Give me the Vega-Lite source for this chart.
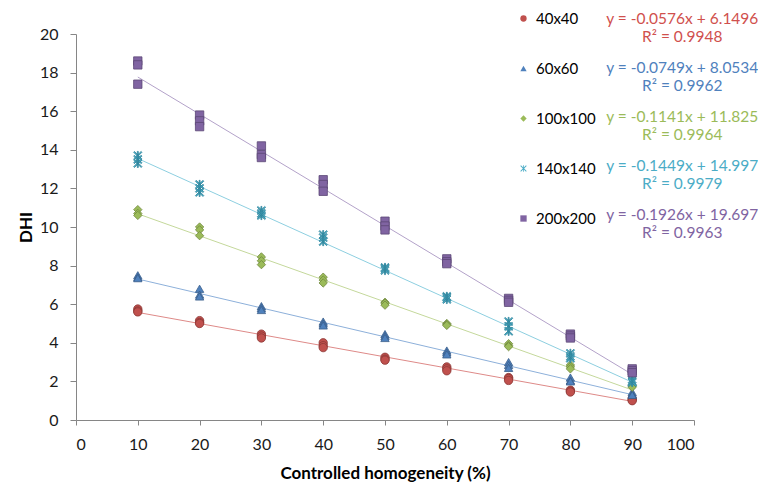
{
  "$schema": "https://vega.github.io/schema/vega-lite/v6.json",
  "width": 618,
  "height": 386,
  "autosize": {"type": "none"},
  "padding": {"left": 76, "top": 34, "right": 64, "bottom": 68},
  "background": "#ffffff",
  "config": {
    "view": {"stroke": null},
    "font": "Lato",
    "axis": {
      "domainColor": "#868686",
      "tickColor": "#868686",
      "grid": false,
      "labelFont": "Lato",
      "labelFontSize": 16,
      "labelColor": "#1a1a1a",
      "titleFont": "Lato",
      "titleFontWeight": "bold",
      "titleColor": "#000000",
      "tickSize": 5
    }
  },
  "datasets": {
    "pts": [
      {"series": "40x40", "x": 10, "y": 5.75}, {"series": "40x40", "x": 10, "y": 5.65}, {"series": "40x40", "x": 10, "y": 5.6},
      {"series": "40x40", "x": 20, "y": 5.15}, {"series": "40x40", "x": 20, "y": 5.05}, {"series": "40x40", "x": 20, "y": 5.0},
      {"series": "40x40", "x": 30, "y": 4.45}, {"series": "40x40", "x": 30, "y": 4.35}, {"series": "40x40", "x": 30, "y": 4.25},
      {"series": "40x40", "x": 40, "y": 4.0}, {"series": "40x40", "x": 40, "y": 3.85}, {"series": "40x40", "x": 40, "y": 3.75},
      {"series": "40x40", "x": 50, "y": 3.25}, {"series": "40x40", "x": 50, "y": 3.15}, {"series": "40x40", "x": 50, "y": 3.1},
      {"series": "40x40", "x": 60, "y": 2.75}, {"series": "40x40", "x": 60, "y": 2.65}, {"series": "40x40", "x": 60, "y": 2.55},
      {"series": "40x40", "x": 70, "y": 2.2}, {"series": "40x40", "x": 70, "y": 2.15}, {"series": "40x40", "x": 70, "y": 2.05},
      {"series": "40x40", "x": 80, "y": 1.55}, {"series": "40x40", "x": 80, "y": 1.5}, {"series": "40x40", "x": 80, "y": 1.45},
      {"series": "40x40", "x": 90, "y": 1.1}, {"series": "40x40", "x": 90, "y": 1.05}, {"series": "40x40", "x": 90, "y": 1.0},
      {"series": "60x60", "x": 10, "y": 7.5}, {"series": "60x60", "x": 10, "y": 7.4}, {"series": "60x60", "x": 10, "y": 7.35},
      {"series": "60x60", "x": 20, "y": 6.8}, {"series": "60x60", "x": 20, "y": 6.5}, {"series": "60x60", "x": 20, "y": 6.4},
      {"series": "60x60", "x": 30, "y": 5.9}, {"series": "60x60", "x": 30, "y": 5.8}, {"series": "60x60", "x": 30, "y": 5.7},
      {"series": "60x60", "x": 40, "y": 5.1}, {"series": "60x60", "x": 40, "y": 5.0}, {"series": "60x60", "x": 40, "y": 4.9},
      {"series": "60x60", "x": 50, "y": 4.45}, {"series": "60x60", "x": 50, "y": 4.35}, {"series": "60x60", "x": 50, "y": 4.25},
      {"series": "60x60", "x": 60, "y": 3.6}, {"series": "60x60", "x": 60, "y": 3.5}, {"series": "60x60", "x": 60, "y": 3.4},
      {"series": "60x60", "x": 70, "y": 3.0}, {"series": "60x60", "x": 70, "y": 2.85}, {"series": "60x60", "x": 70, "y": 2.7},
      {"series": "60x60", "x": 80, "y": 2.2}, {"series": "60x60", "x": 80, "y": 2.05}, {"series": "60x60", "x": 80, "y": 2.0},
      {"series": "60x60", "x": 90, "y": 1.45}, {"series": "60x60", "x": 90, "y": 1.35}, {"series": "60x60", "x": 90, "y": 1.3},
      {"series": "100x100", "x": 10, "y": 10.9}, {"series": "100x100", "x": 10, "y": 10.7}, {"series": "100x100", "x": 10, "y": 10.6},
      {"series": "100x100", "x": 20, "y": 10.0}, {"series": "100x100", "x": 20, "y": 9.85}, {"series": "100x100", "x": 20, "y": 9.55},
      {"series": "100x100", "x": 30, "y": 8.45}, {"series": "100x100", "x": 30, "y": 8.25}, {"series": "100x100", "x": 30, "y": 8.05},
      {"series": "100x100", "x": 40, "y": 7.4}, {"series": "100x100", "x": 40, "y": 7.25}, {"series": "100x100", "x": 40, "y": 7.1},
      {"series": "100x100", "x": 50, "y": 6.1}, {"series": "100x100", "x": 50, "y": 6.05}, {"series": "100x100", "x": 50, "y": 5.95},
      {"series": "100x100", "x": 60, "y": 5.0}, {"series": "100x100", "x": 60, "y": 4.95}, {"series": "100x100", "x": 60, "y": 4.9},
      {"series": "100x100", "x": 70, "y": 3.95}, {"series": "100x100", "x": 70, "y": 3.85}, {"series": "100x100", "x": 70, "y": 3.8},
      {"series": "100x100", "x": 80, "y": 2.85}, {"series": "100x100", "x": 80, "y": 2.75}, {"series": "100x100", "x": 80, "y": 2.65},
      {"series": "100x100", "x": 90, "y": 1.8}, {"series": "100x100", "x": 90, "y": 1.75}, {"series": "100x100", "x": 90, "y": 1.7},
      {"series": "140x140", "x": 10, "y": 13.7}, {"series": "140x140", "x": 10, "y": 13.5}, {"series": "140x140", "x": 10, "y": 13.3},
      {"series": "140x140", "x": 20, "y": 12.2}, {"series": "140x140", "x": 20, "y": 12.0}, {"series": "140x140", "x": 20, "y": 11.8},
      {"series": "140x140", "x": 30, "y": 10.85}, {"series": "140x140", "x": 30, "y": 10.7}, {"series": "140x140", "x": 30, "y": 10.6},
      {"series": "140x140", "x": 40, "y": 9.6}, {"series": "140x140", "x": 40, "y": 9.45}, {"series": "140x140", "x": 40, "y": 9.25},
      {"series": "140x140", "x": 50, "y": 7.9}, {"series": "140x140", "x": 50, "y": 7.85}, {"series": "140x140", "x": 50, "y": 7.75},
      {"series": "140x140", "x": 60, "y": 6.4}, {"series": "140x140", "x": 60, "y": 6.35}, {"series": "140x140", "x": 60, "y": 6.25},
      {"series": "140x140", "x": 70, "y": 5.1}, {"series": "140x140", "x": 70, "y": 4.85}, {"series": "140x140", "x": 70, "y": 4.6},
      {"series": "140x140", "x": 80, "y": 3.45}, {"series": "140x140", "x": 80, "y": 3.3}, {"series": "140x140", "x": 80, "y": 3.2},
      {"series": "140x140", "x": 90, "y": 2.1}, {"series": "140x140", "x": 90, "y": 2.0}, {"series": "140x140", "x": 90, "y": 1.95},
      {"series": "200x200", "x": 10, "y": 18.6}, {"series": "200x200", "x": 10, "y": 18.4}, {"series": "200x200", "x": 10, "y": 17.4},
      {"series": "200x200", "x": 20, "y": 15.8}, {"series": "200x200", "x": 20, "y": 15.5}, {"series": "200x200", "x": 20, "y": 15.2},
      {"series": "200x200", "x": 30, "y": 14.2}, {"series": "200x200", "x": 30, "y": 13.75}, {"series": "200x200", "x": 30, "y": 13.6},
      {"series": "200x200", "x": 40, "y": 12.45}, {"series": "200x200", "x": 40, "y": 12.2}, {"series": "200x200", "x": 40, "y": 11.85},
      {"series": "200x200", "x": 50, "y": 10.3}, {"series": "200x200", "x": 50, "y": 10.05}, {"series": "200x200", "x": 50, "y": 9.85},
      {"series": "200x200", "x": 60, "y": 8.35}, {"series": "200x200", "x": 60, "y": 8.2}, {"series": "200x200", "x": 60, "y": 8.1},
      {"series": "200x200", "x": 70, "y": 6.3}, {"series": "200x200", "x": 70, "y": 6.2}, {"series": "200x200", "x": 70, "y": 6.1},
      {"series": "200x200", "x": 80, "y": 4.45}, {"series": "200x200", "x": 80, "y": 4.35}, {"series": "200x200", "x": 80, "y": 4.25},
      {"series": "200x200", "x": 90, "y": 2.65}, {"series": "200x200", "x": 90, "y": 2.55}, {"series": "200x200", "x": 90, "y": 2.45}
    ],
    "trend": [
      {"series": "40x40", "x": 10, "y": 5.5736}, {"series": "40x40", "x": 90, "y": 0.9656},
      {"series": "60x60", "x": 10, "y": 7.3044}, {"series": "60x60", "x": 90, "y": 1.3124},
      {"series": "100x100", "x": 10, "y": 10.684}, {"series": "100x100", "x": 90, "y": 1.556},
      {"series": "140x140", "x": 10, "y": 13.548}, {"series": "140x140", "x": 90, "y": 1.956},
      {"series": "200x200", "x": 10, "y": 17.771}, {"series": "200x200", "x": 90, "y": 2.363}
    ],
    "eqs": [
      {"series": "40x40", "label": "y = -0.0576x + 6.1496\nR² = 0.9948"},
      {"series": "60x60", "label": "y = -0.0749x + 8.0534\nR² = 0.9962"},
      {"series": "100x100", "label": "y = -0.1141x + 11.825\nR² = 0.9964"},
      {"series": "140x140", "label": "y = -0.1449x + 14.997\nR² = 0.9979"},
      {"series": "200x200", "label": "y = -0.1926x + 19.697\nR² = 0.9963"}
    ]
  },
  "resolve": {"scale": {"y": "independent", "stroke": "independent"}},
  "layer": [
    {
      "data": {"name": "trend"},
      "mark": {"type": "line", "strokeWidth": 1},
      "encoding": {
        "x": {"field": "x", "type": "quantitative",
          "scale": {"domain": [0, 100], "nice": false},
          "axis": {"values": [0, 10, 20, 30, 40, 50, 60, 70, 80, 90, 100], "title": "Controlled homogeneity (%)", "titleFontSize": 17, "labelPadding": 11, "titlePadding": 13}},
        "y": {"field": "y", "type": "quantitative",
          "scale": {"domain": [0, 20], "nice": false},
          "axis": {"values": [0, 2, 4, 6, 8, 10, 12, 14, 16, 18, 20], "title": "DHI", "titleFontSize": 17, "labelPadding": 12, "titlePadding": 4, "tickSize": 6}},
        "stroke": {"field": "series", "type": "nominal", "legend": null,
          "scale": {"domain": ["40x40", "60x60", "100x100", "140x140", "200x200"],
                    "range": ["#DE8A88", "#8DB0DA", "#C4D89B", "#8DCFE0", "#B3A2C9"]}}
      }
    },
    {
      "data": {"name": "pts"},
      "mark": {"type": "point", "filled": true, "opacity": 1, "size": 70, "strokeWidth": 0.8},
      "encoding": {
        "x": {"field": "x", "type": "quantitative"},
        "y": {"field": "y", "type": "quantitative", "scale": {"domain": [0, 20], "nice": false}, "axis": null},
        "color": {"field": "series", "type": "nominal",
          "scale": {"domain": ["40x40", "60x60", "100x100", "140x140", "200x200"],
                    "range": ["#C0504D", "#4F81BD", "#9BBB59", "#4BACC6", "#8064A2"]},
          "legend": {"orient": "none", "legendX": 440, "legendY": -23, "title": null,
            "labelFont": "Lato", "labelFontSize": 15, "labelColor": "#000000",
            "symbolSize": 40, "rowPadding": 34, "labelOffset": 5, "padding": 0, "symbolStrokeWidth": 0}},
        "shape": {"field": "series", "type": "nominal",
          "scale": {"domain": ["40x40", "60x60", "100x100", "140x140", "200x200"],
                    "range": ["circle", "triangle-up", "diamond", "M-1,-0.8L-0.8,-1L1,0.8L0.8,1ZM0.8,-1L1,-0.8L-0.8,1L-1,0.8ZM-0.12,-1L0.12,-1L0.12,1L-0.12,1Z", "square"]}},
        "stroke": {"field": "series", "type": "nominal", "legend": null,
          "scale": {"domain": ["40x40", "60x60", "100x100", "140x140", "200x200"],
                    "range": ["#8C3836", "#385D8A", "#71893F", "#31859C", "#5C4776"]}}
      }
    },
    {
      "data": {"name": "eqs"},
      "mark": {"type": "text", "lineBreak": "\n", "align": "center", "baseline": "middle", "fontSize": 15.5, "lineHeight": 18, "font": "Lato"},
      "encoding": {
        "x": {"datum": 98.1, "type": "quantitative"},
        "y": {"field": "series", "type": "nominal", "axis": null,
          "scale": {"type": "point", "domain": ["40x40", "60x60", "100x100", "140x140", "200x200"], "range": [-15, 181], "padding": 0}},
        "fill": {"field": "series", "type": "nominal", "legend": null,
          "scale": {"domain": ["40x40", "60x60", "100x100", "140x140", "200x200"],
                    "range": ["#D0504D", "#4F81BD", "#9BBB59", "#4BACC6", "#8064A2"]}},
        "text": {"field": "label", "type": "nominal"}
      }
    }
  ]
}
